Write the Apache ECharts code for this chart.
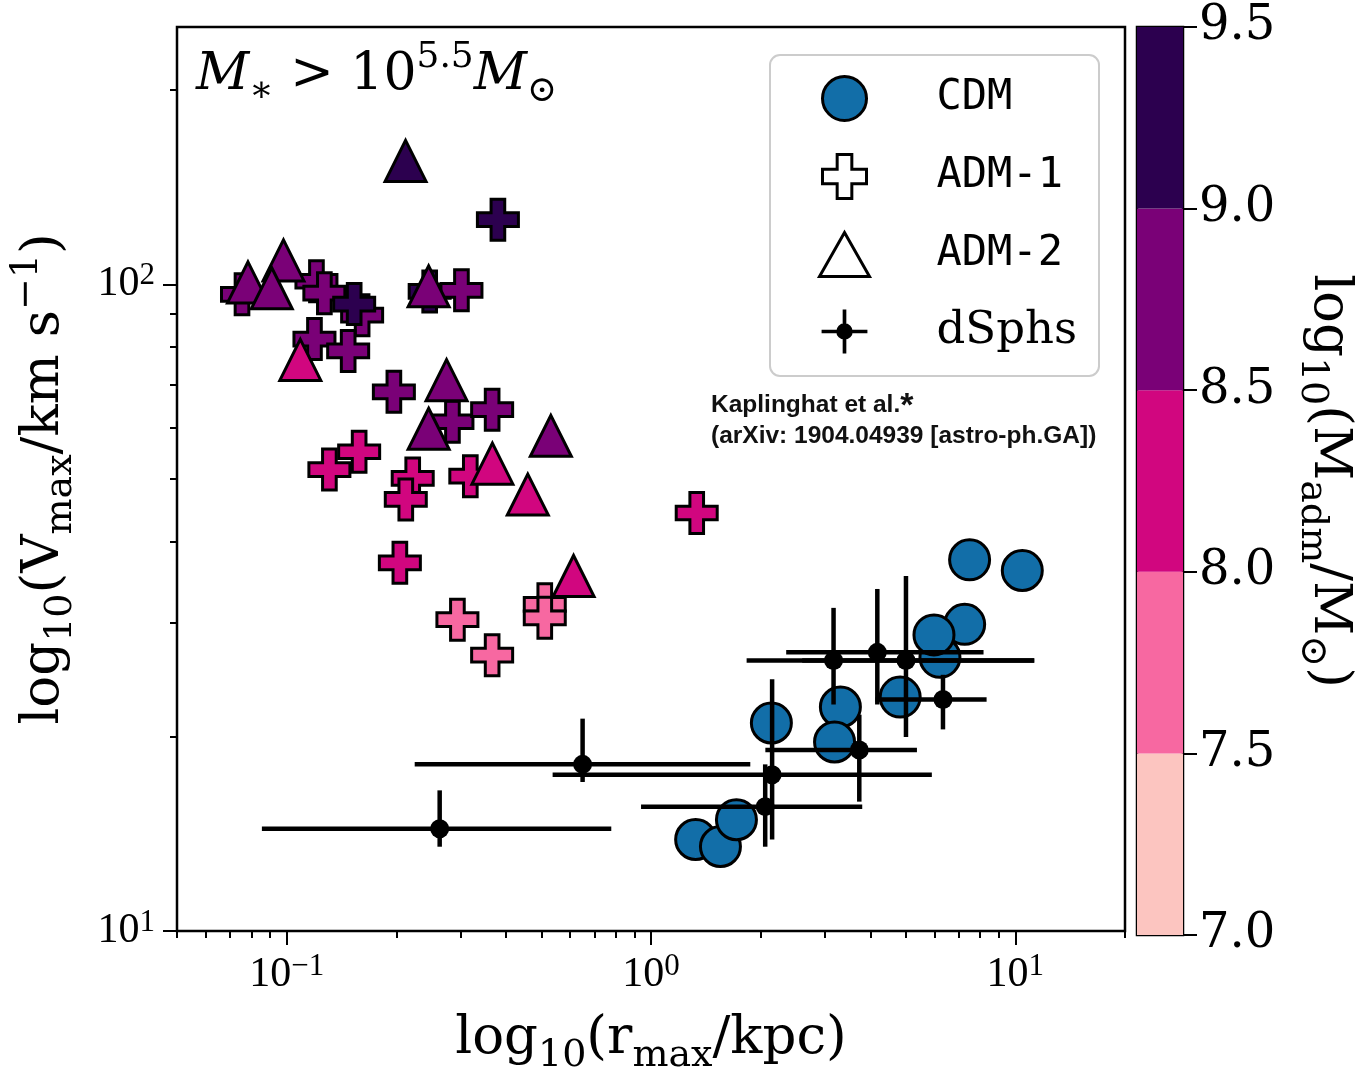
<!DOCTYPE html>
<html><head><meta charset="utf-8">
<script src="https://cdn.jsdelivr.net/npm/echarts@6/dist/echarts.min.js"></script>
<style>html,body{margin:0;padding:0;background:#fff}#c{width:1365px;height:1080px}</style>
</head><body><div id="c"></div><script>
// ---- axis ticks ----
const xTickValues = [0.1, 1, 10];
const xMinorTicks = [0.05,0.06,0.07,0.08,0.09,0.2,0.3,0.4,0.5,0.6,0.7,0.8,0.9,2,3,4,5,6,7,8,9,20];
const yTickValues = [10, 100];
const yMinorTicks = [20,30,40,50,60,70,80,90,200];
// ---- colorbar ----
const cbBounds = [7.0, 7.5, 8.0, 8.5, 9.0, 9.5];
const cbColors = ['#fcc5c0', '#f768a1', '#d1067f', '#7a0177', '#2c004f'];
// ---- CDM ----
const cdmR = [10.45, 7.49, 6.21, 7.26, 5.98, 4.83, 3.31, 3.19, 2.14, 1.326, 1.551, 1.716];
const cdmV = [36.1, 37.5, 26.5, 29.8, 28.7, 23.0, 22.2, 19.6, 20.97, 13.85, 13.51, 14.86];
// ---- ADM-1 ----
const adm1R = [0.380, 0.0754, 0.1207, 0.1269, 0.1611, 0.1532, 0.1192, 0.1475, 0.2469, 0.3018, 0.1969, 0.2851, 0.3664, 0.1581, 0.131, 0.2218, 0.2123, 0.3192, 1.335, 0.2045, 0.2942, 0.511, 0.511, 0.3664];
const adm1V = [125.9, 96.5, 101.1, 96.9, 89.6, 93.2, 82.3, 78.9, 97.5, 97.9, 68.2, 61.3, 64.0, 55.1, 51.7, 50.1, 46.5, 50.5, 44.3, 37.1, 30.3, 32.0, 30.5, 26.7];
const adm1M = [9.2, 8.7, 8.8, 8.7, 8.6, 9.1, 8.7, 8.6, 9.1, 8.7, 8.8, 8.6, 8.7, 8.3, 8.2, 8.3, 8.2, 8.4, 8.2, 8.1, 7.8, 7.7, 7.9, 7.8];
// ---- ADM-2 ----
const adm2R = [0.212, 0.0783, 0.098, 0.091, 0.2453, 0.109, 0.2747, 0.2453, 0.531, 0.367, 0.459, 0.613];
const adm2V = [155.2, 100.7, 108.9, 98.6, 99.3, 76.4, 71.1, 59.8, 58.3, 52.8, 47.3, 35.4];
const adm2M = [9.3, 8.7, 8.8, 8.6, 8.7, 8.2, 8.6, 8.8, 8.7, 8.3, 8.1, 8.2];
// ---- dSphs (Kaplinghat et al.) ----
const dsphR   = [0.263, 0.649, 2.058, 2.15, 3.73, 3.17, 4.18, 5.01, 6.33];
const dsphRlo = [0.0855, 0.2246, 0.939, 0.537, 2.06, 1.83, 2.35, 2.6, 4.13];
const dsphRhi = [0.778, 1.873, 3.80, 5.9, 5.37, 11.27, 8.18, 11.27, 8.34];
const dsphV   = [14.39, 18.1, 15.57, 17.44, 19.05, 26.2, 26.97, 26.2, 22.8];
const dsphVlo = [13.5, 17.0, 13.5, 13.85, 15.85, 22.4, 22.4, 19.95, 20.5];
const dsphVhi = [16.5, 21.3, 18.1, 24.5, 21.6, 31.6, 33.8, 35.4, 24.9];

const SERIF = 'DejaVu Serif';
const NUMF = 'Liberation Serif';
const CDM_BLUE = '#126ea8';
const plusPath = 'path://M2,0 L4,0 L4,2 L6,2 L6,4 L4,4 L4,6 L2,6 L2,4 L0,4 L0,2 L2,2 Z';
const dsphIcon = 'path://M0,22 L50,22 L50,26 L0,26 Z M23,0 L27,0 L27,48 L23,48 Z M34,24 A9,9 0 1 1 16,24 A9,9 0 1 1 34,24 Z';

function massColor(m) {
  for (let i = 0; i < cbColors.length; i++) {
    if (m >= cbBounds[i] && m < cbBounds[i + 1]) return cbColors[i];
  }
  return cbColors[cbColors.length - 1];
}

const cdmData = cdmR.map((r, i) => [r, cdmV[i]]);
const adm1Data = adm1R.map((r, i) => ({ value: [r, adm1V[i], adm1M[i]], itemStyle: { color: massColor(adm1M[i]) } }));
const adm2Data = adm2R.map((r, i) => ({ value: [r, adm2V[i], adm2M[i]], itemStyle: { color: massColor(adm2M[i]) } }));
const dsphData = dsphR.map((r, i) => [r, dsphV[i], dsphRlo[i], dsphRhi[i], dsphVlo[i], dsphVhi[i]]);
const cbData = cbColors.map((c, i) => [0, cbBounds[i], cbBounds[i + 1], i]);

const supLabel = v => {
  const e = Math.round(Math.log10(v));
  return '{b|10}{s|' + (e < 0 ? '\u2212' + (-e) : e) + '}';
};
const tickRich = {
  b: { fontFamily: NUMF, fontSize: 42, lineHeight: 48, color: '#000' },
  s: { fontFamily: NUMF, fontSize: 31, lineHeight: 30, verticalAlign: 'top', color: '#000' }
};
const titleRich = {
  n: { fontFamily: SERIF, fontSize: 53, lineHeight: 72, color: '#000' },
  s: { fontFamily: SERIF, fontSize: 38, lineHeight: 38, verticalAlign: 'bottom', color: '#000' },
  p: { fontFamily: SERIF, fontSize: 38, lineHeight: 44, verticalAlign: 'top', color: '#000' }
};
const tickLine = { color: '#000', width: 2 };

const chart = echarts.init(document.getElementById('c'), null, { renderer: 'canvas' });
chart.setOption({
  backgroundColor: '#ffffff',
  animation: false,
  grid: [
    { left: 170, top: 27, width: 955, height: 908, show: true, borderColor: '#000', borderWidth: 2.5, backgroundColor: 'transparent' },
    { left: 1137, top: 27, width: 46, height: 908, show: true, borderColor: '#000', borderWidth: 2.5, backgroundColor: 'transparent' }
  ],
  xAxis: [
    {
      type: 'log', logBase: 10, gridIndex: 0, min: 0.05, max: 20, position: 'bottom',
      axisLine: { show: false },
      splitLine: { show: false }, minorTick: { show: false },
      axisTick: { show: true, customValues: xTickValues, length: 14, inside: false, lineStyle: tickLine },
      axisLabel: { customValues: xTickValues, margin: 20, formatter: supLabel, rich: tickRich },
      name: '{n|log}{s|10}{n|(r}{s|max}{n|/kpc)}',
      nameLocation: 'middle', nameGap: 72,
      nameTextStyle: { rich: titleRich }
    },
    {
      type: 'log', logBase: 10, gridIndex: 0, min: 0.05, max: 20, position: 'bottom',
      axisLine: { show: false }, splitLine: { show: false }, axisLabel: { show: false },
      axisTick: { show: true, customValues: xMinorTicks, length: 7, lineStyle: tickLine }
    },
    {
      type: 'category', gridIndex: 1, data: ['cb'], boundaryGap: true,
      axisLine: { show: false }, axisTick: { show: false }, axisLabel: { show: false }, splitLine: { show: false }
    }
  ],
  yAxis: [
    {
      type: 'log', logBase: 10, gridIndex: 0, min: 10, max: 250, position: 'left',
      axisLine: { show: false }, splitLine: { show: false }, minorTick: { show: false },
      axisTick: { show: true, customValues: yTickValues, length: 14, lineStyle: tickLine },
      axisLabel: { customValues: yTickValues, margin: 22, formatter: supLabel, rich: tickRich },
      name: '{n|log}{s|10}{n|(V}{s|max}{n|/km s}{p|\u22121}{n|)}',
      nameLocation: 'middle', nameGap: 97, nameRotate: 90,
      nameTextStyle: { rich: titleRich }
    },
    {
      type: 'log', logBase: 10, gridIndex: 0, min: 10, max: 250, position: 'left',
      axisLine: { show: false }, splitLine: { show: false }, axisLabel: { show: false },
      axisTick: { show: true, customValues: yMinorTicks, length: 7, lineStyle: tickLine }
    },
    {
      type: 'value', gridIndex: 1, min: 7, max: 9.5, interval: 0.5, position: 'right',
      axisLine: { show: false }, splitLine: { show: false },
      axisTick: { show: true, length: 14, lineStyle: tickLine },
      axisLabel: { margin: 16, formatter: v => v.toFixed(1), fontFamily: SERIF, fontSize: 48, color: '#000' },
      name: '{n|log}{s|10}{n|(M}{s|adm}{n|/M}{s|\u2299}{n|)}',
      nameLocation: 'middle', nameGap: 110, nameRotate: -90,
      nameTextStyle: { rich: titleRich }
    }
  ],
  legend: {
    orient: 'vertical', left: 770, top: 55,
    padding: [20, 22, 22, 48],
    itemWidth: 50, itemHeight: 44, itemGap: 31,
    backgroundColor: 'rgba(255,255,255,0.8)', borderColor: '#cccccc', borderWidth: 2, borderRadius: 10,
    selectedMode: false,
    formatter: name => name === 'dSphs' ? '{d|dSphs}' : '{m|' + name + '}',
    textStyle: {
      rich: {
        m: { fontFamily: 'DejaVu Sans Mono', fontSize: 42, lineHeight: 44, padding: [0, 0, 0, 62], color: '#000' },
        d: { fontFamily: SERIF, fontSize: 45, lineHeight: 44, padding: [0, 0, 0, 62], color: '#000' }
      }
    },
    data: [
      { name: 'CDM', icon: 'circle', itemStyle: { color: CDM_BLUE, borderColor: '#000', borderWidth: 3 } },
      { name: 'ADM-1', icon: plusPath, itemStyle: { color: '#fff', borderColor: '#000', borderWidth: 3 } },
      { name: 'ADM-2', icon: 'triangle', itemStyle: { color: '#fff', borderColor: '#000', borderWidth: 3 } },
      { name: 'dSphs', icon: dsphIcon, itemStyle: { color: '#000', borderWidth: 0 } }
    ]
  },
  graphic: [
    {
      type: 'text', left: 196, top: 40, z: 10,
      style: {
        text: '{mi|M}{sb|\u2217}{n| > 10}{sp|5.5}{mi|M}{sb|\u2299}',
        rich: {
          mi: { fontFamily: SERIF, fontStyle: 'italic', fontSize: 52, lineHeight: 70, fill: '#000' },
          n: { fontFamily: SERIF, fontSize: 52, lineHeight: 70, fill: '#000' },
          sb: { fontFamily: SERIF, fontSize: 36, lineHeight: 36, verticalAlign: 'bottom', fill: '#000' },
          sp: { fontFamily: SERIF, fontSize: 36, lineHeight: 42, verticalAlign: 'top', fill: '#000' }
        }
      }
    },
    {
      type: 'text', left: 711, top: 390, z: 10,
      style: {
        text: '{a|Kaplinghat et al.}{st|*}\n{a|(arXiv: 1904.04939 [astro-ph.GA])}',
        rich: {
          a: { fontFamily: 'Liberation Sans', fontWeight: 'bold', fontSize: 24.5, lineHeight: 31, fill: '#111' },
          st: { fontFamily: 'Liberation Sans', fontWeight: 'bold', fontSize: 34, lineHeight: 31, verticalAlign: 'top', fill: '#111' }
        }
      }
    }
  ],
  series: [
    {
      name: 'CDM', type: 'scatter', xAxisIndex: 0, yAxisIndex: 0, data: cdmData,
      symbol: 'circle', symbolSize: 40,
      itemStyle: { color: CDM_BLUE, borderColor: '#000', borderWidth: 3, opacity: 1 }, z: 3
    },
    {
      name: 'ADM-1', type: 'scatter', xAxisIndex: 0, yAxisIndex: 0, data: adm1Data,
      symbol: plusPath, symbolSize: 41,
      itemStyle: { borderColor: '#000', borderWidth: 3, opacity: 1 }, z: 4
    },
    {
      name: 'ADM-2', type: 'scatter', xAxisIndex: 0, yAxisIndex: 0, data: adm2Data,
      symbol: 'triangle', symbolSize: 41,
      itemStyle: { borderColor: '#000', borderWidth: 3, opacity: 1 }, z: 5
    },
    {
      name: 'dSphs', type: 'custom', xAxisIndex: 0, yAxisIndex: 0, data: dsphData, z: 6,
      encode: { x: 0, y: 1 },
      renderItem: (params, api) => {
        const x = api.value(0), y = api.value(1);
        const c = api.coord([x, y]);
        const a = api.coord([api.value(2), y]), b = api.coord([api.value(3), y]);
        const d = api.coord([x, api.value(4)]), e = api.coord([x, api.value(5)]);
        return {
          type: 'group', children: [
            { type: 'line', shape: { x1: a[0], y1: a[1], x2: b[0], y2: b[1] }, style: { stroke: '#000', lineWidth: 4.5 } },
            { type: 'line', shape: { x1: d[0], y1: d[1], x2: e[0], y2: e[1] }, style: { stroke: '#000', lineWidth: 4.5 } },
            { type: 'circle', shape: { cx: c[0], cy: c[1], r: 9.5 }, style: { fill: '#000' } }
          ]
        };
      }
    },
    {
      name: 'colorbar', type: 'custom', xAxisIndex: 2, yAxisIndex: 2, data: cbData, z: 1,
      renderItem: (params, api) => {
        const p0 = api.coord([api.value(0), api.value(1)]);
        const p1 = api.coord([api.value(0), api.value(2)]);
        const w = api.size([1, 0])[0];
        return {
          type: 'rect',
          shape: { x: p0[0] - w / 2, y: p1[1], width: w, height: p0[1] - p1[1] },
          style: { fill: cbColors[api.value(3)] }
        };
      }
    }
  ]
});
</script></body></html>
